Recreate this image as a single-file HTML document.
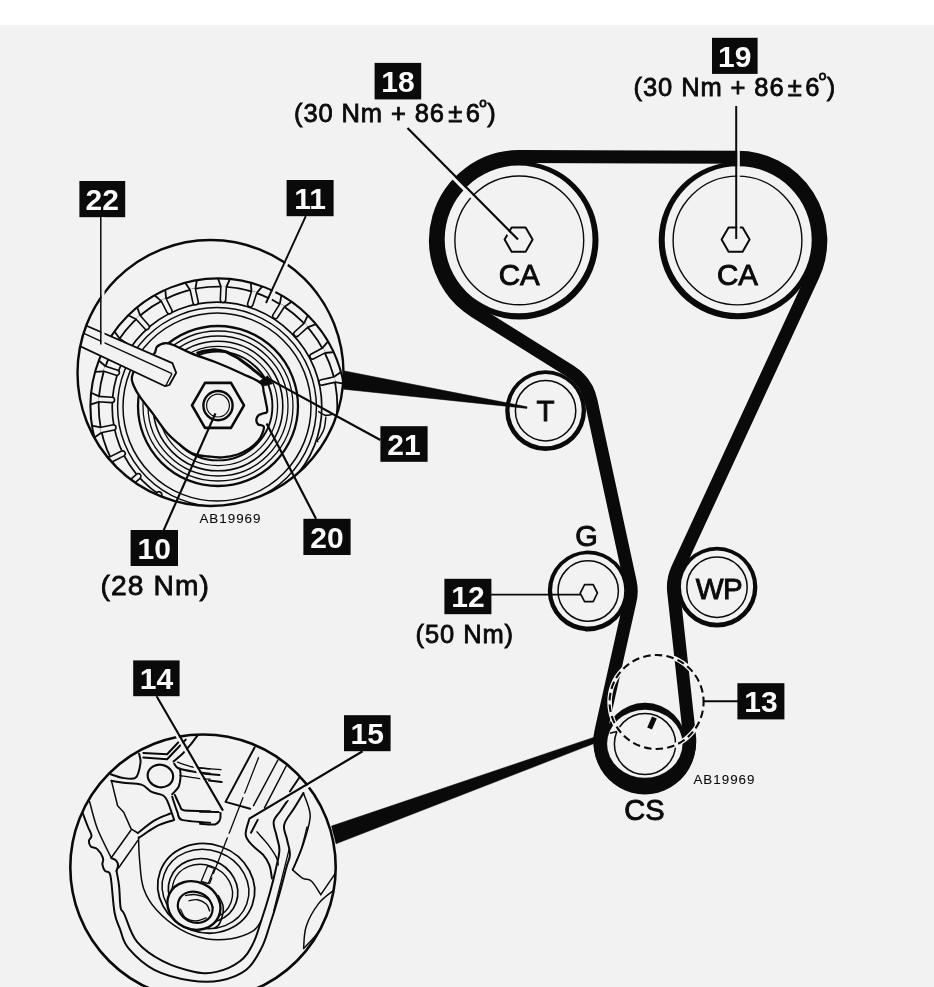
<!DOCTYPE html>
<html><head><meta charset="utf-8"><title>Timing belt diagram</title>
<style>
html,body{margin:0;padding:0;background:#fff;}
body{width:934px;height:987px;overflow:hidden;font-family:"Liberation Sans",sans-serif;}
svg{display:block;font-family:"Liberation Sans",sans-serif;}
</style></head><body>
<svg width="934" height="987" viewBox="0 0 934 987">
<rect x="0" y="0" width="934" height="987" fill="#ffffff"/>
<rect x="0" y="25" width="934" height="962" fill="#f2f2f2"/>
<g opacity="0.999">
<path d="M519.5 156.6 L737.7 157.2 A83.3 83.3 0 0 1 813.1 275.5 L677.4 568.9 A43.6 43.6 0 0 0 673.7 592 L689.5 736.3 A45 45 0 1 1 600.9 731.4 L630.2 600.4 A43 43 0 0 0 630.2 581.9 L591 400.9 A46.5 46.5 0 0 0 570.3 371.3 L474.8 311.4 A83.8 83.8 0 0 1 519.5 156.6Z" fill="none" stroke="#0a0a0a" stroke-width="13" stroke-linejoin="round"/>
<path d="M343.5 370.8 L527 406.8 L527 408.4 L343.5 389.2Z" fill="#0a0a0a" stroke="#0a0a0a" stroke-width="0.5" />
<path d="M331.5 826 L594 737.3 L594 743.5 L336 843.8Z" fill="#0a0a0a" stroke="#0a0a0a" stroke-width="0.5" />
<path d="M440.1 240.4 a79.2 79.2 0 1 0 158.4 0 a79.2 79.2 0 1 0 -158.4 0Z M444.7 239.4 a73.9 73.9 0 1 0 147.8 0 a73.9 73.9 0 1 0 -147.8 0Z" fill="#0a0a0a" fill-rule="evenodd"/>
<path d="M658.7 240.5 a78.8 78.8 0 1 0 157.6 0 a78.8 78.8 0 1 0 -157.6 0Z M664.7 239.7 a73.5 73.5 0 1 0 147 0 a73.5 73.5 0 1 0 -147 0Z" fill="#0a0a0a" fill-rule="evenodd"/>
<circle cx="519.3" cy="240.4" r="64.4" fill="none" stroke="#0a0a0a" stroke-width="1.4" />
<circle cx="737.5" cy="240.5" r="64.4" fill="none" stroke="#0a0a0a" stroke-width="1.4" />
<path d="M532.6 239.6 L525.6 251.7 L511.6 251.7 L504.6 239.6 L511.6 227.5 L525.6 227.5Z" fill="#f2f2f2" stroke="#0a0a0a" stroke-width="2" stroke-linejoin="round"/>
<path d="M749.6 239.6 L742.6 251.7 L728.6 251.7 L721.6 239.6 L728.6 227.5 L742.6 227.5Z" fill="#f2f2f2" stroke="#0a0a0a" stroke-width="2" stroke-linejoin="round"/>
<path d="M505.2 410.7 a40.4 40.4 0 1 0 80.8 0 a40.4 40.4 0 1 0 -80.8 0Z M509.5 410.1 a36.1 36.1 0 1 0 72.2 0 a36.1 36.1 0 1 0 -72.2 0Z" fill="#0a0a0a" fill-rule="evenodd"/>
<circle cx="545.6" cy="410.7" r="30.2" fill="none" stroke="#0a0a0a" stroke-width="1.5" />
<path d="M547.8 591 a40.4 40.4 0 1 0 80.8 0 a40.4 40.4 0 1 0 -80.8 0Z M552.1 590.4 a36.1 36.1 0 1 0 72.2 0 a36.1 36.1 0 1 0 -72.2 0Z" fill="#0a0a0a" fill-rule="evenodd"/>
<circle cx="588.2" cy="591" r="30.2" fill="none" stroke="#0a0a0a" stroke-width="1.5" />
<path d="M676.6 587.2 a40.4 40.4 0 1 0 80.8 0 a40.4 40.4 0 1 0 -80.8 0Z M680.9 586.6 a36.1 36.1 0 1 0 72.2 0 a36.1 36.1 0 1 0 -72.2 0Z" fill="#0a0a0a" fill-rule="evenodd"/>
<circle cx="717" cy="587.2" r="30.2" fill="none" stroke="#0a0a0a" stroke-width="1.5" />
<path d="M691.8 743.4 L691.4 749.5 L690.2 755.6 L688.2 761.4 L685.5 766.9 L682.1 772 L678 776.6 L673.4 780.7 L668.3 784.1 L662.8 786.8 L657 788.8 L650.9 790 L644.8 790.4 L638.7 790 L632.6 788.8 L626.8 786.8 L621.3 784.1 L616.2 780.7 L611.6 776.6 L607.5 772 L604.1 766.9 L601.4 761.4 L599.4 755.6 L598.2 749.5 L597.8 743.4" fill="none" stroke="#0a0a0a" stroke-width="8" />
<circle cx="645" cy="744" r="41.2" fill="#0a0a0a" stroke="#0a0a0a" stroke-width="0.1" />
<ellipse cx="644.8" cy="743.8" rx="37.7" ry="34" transform="rotate(0 644.8 743.8)" fill="#f2f2f2" stroke="#f2f2f2" stroke-width="0.1" />
<circle cx="645" cy="744" r="30.6" fill="none" stroke="#0a0a0a" stroke-width="1.5" />
<line x1="654.4" y1="717.4" x2="649.6" y2="728.6" stroke="#0a0a0a" stroke-width="5.2" />
<line x1="610" y1="733.2" x2="620.5" y2="730.4" stroke="#0a0a0a" stroke-width="1.6" />
<circle cx="656.6" cy="702" r="47" fill="none" stroke="#f2f2f2" stroke-width="4.6" />
<circle cx="656.6" cy="702" r="47" fill="none" stroke="#0a0a0a" stroke-width="2.1" stroke-dasharray="7.5 4.2" stroke-dashoffset="3"/>
<path d="M580.2 593.2 L584.6 584.6 L593.2 584.6 L597.4 593 L593.2 601.6 L584.6 601.6Z" fill="#f2f2f2" stroke="#0a0a0a" stroke-width="1.7" stroke-linejoin="round"/>
<line x1="491" y1="594.6" x2="581" y2="594.6" stroke="#0a0a0a" stroke-width="1.8" />
<line x1="405.6" y1="129.9" x2="516.1" y2="241.4" stroke="#f2f2f2" stroke-width="3.2" />
<line x1="407.5" y1="128" x2="518" y2="239.5" stroke="#0a0a0a" stroke-width="2.2" />
<line x1="738.5" y1="106" x2="738.5" y2="239" stroke="#f2f2f2" stroke-width="2.6" />
<line x1="736.2" y1="106" x2="736.2" y2="239" stroke="#0a0a0a" stroke-width="2" />
<line x1="703.5" y1="701.2" x2="738" y2="701.2" stroke="#0a0a0a" stroke-width="2" />
<rect x="374.6" y="62.9" width="46.6" height="36.5" fill="#0a0a0a"/>
<text x="397.9" y="91.9" font-size="30" font-weight="700" fill="#fafafa" text-anchor="middle">18</text>
<rect x="712" y="37.8" width="45.6" height="36.1" fill="#0a0a0a"/>
<text x="734.8" y="66.6" font-size="30" font-weight="700" fill="#fafafa" text-anchor="middle">19</text>
<rect x="79.4" y="181" width="45.8" height="36.2" fill="#0a0a0a"/>
<text x="102.3" y="209.8" font-size="30" font-weight="700" fill="#fafafa" text-anchor="middle">22</text>
<rect x="286.6" y="180" width="47" height="36.2" fill="#0a0a0a"/>
<text x="310.1" y="208.8" font-size="30" font-weight="700" fill="#fafafa" text-anchor="middle">11</text>
<rect x="380.4" y="426.2" width="47.2" height="35.6" fill="#0a0a0a"/>
<text x="404" y="454.7" font-size="30" font-weight="700" fill="#fafafa" text-anchor="middle">21</text>
<rect x="303.4" y="518.8" width="47.2" height="36.2" fill="#0a0a0a"/>
<text x="327" y="547.6" font-size="30" font-weight="700" fill="#fafafa" text-anchor="middle">20</text>
<rect x="130.6" y="530" width="47.4" height="36" fill="#0a0a0a"/>
<text x="154.3" y="558.7" font-size="30" font-weight="700" fill="#fafafa" text-anchor="middle">10</text>
<rect x="444.4" y="578.8" width="47" height="35.4" fill="#0a0a0a"/>
<text x="467.9" y="607.2" font-size="30" font-weight="700" fill="#fafafa" text-anchor="middle">12</text>
<rect x="737.4" y="683.2" width="47" height="36.2" fill="#0a0a0a"/>
<text x="760.9" y="712" font-size="30" font-weight="700" fill="#fafafa" text-anchor="middle">13</text>
<rect x="133.2" y="660.4" width="46.4" height="35.8" fill="#0a0a0a"/>
<text x="156.4" y="689" font-size="30" font-weight="700" fill="#fafafa" text-anchor="middle">14</text>
<rect x="344" y="715.2" width="46.6" height="36" fill="#0a0a0a"/>
<text x="367.3" y="743.9" font-size="30" font-weight="700" fill="#fafafa" text-anchor="middle">15</text>
<text x="294" y="122.2" font-size="25.5" letter-spacing="0.9" text-anchor="start" font-weight="400" fill="#0a0a0a" stroke="#0a0a0a" stroke-width="0.8" >(30 Nm + 86<tspan dx="3.2">±</tspan><tspan dx="2.6">6</tspan><tspan font-size="13.5" dy="-15.5" dx="-1.5">o</tspan><tspan dy="15.5" dx="-0.5">)</tspan></text>
<text x="633.6" y="95.8" font-size="25.5" letter-spacing="0.9" text-anchor="start" font-weight="400" fill="#0a0a0a" stroke="#0a0a0a" stroke-width="0.8" >(30 Nm + 86<tspan dx="3.2">±</tspan><tspan dx="2.6">6</tspan><tspan font-size="13.5" dy="-15.5" dx="-1.5">o</tspan><tspan dy="15.5" dx="-0.5">)</tspan></text>
<text x="100.6" y="595.4" font-size="28.2" letter-spacing="1.1" text-anchor="start" font-weight="400" fill="#0a0a0a" stroke="#0a0a0a" stroke-width="0.8" >(28 Nm)</text>
<text x="415.6" y="642.6" font-size="25.5" letter-spacing="0.9" text-anchor="start" font-weight="400" fill="#0a0a0a" stroke="#0a0a0a" stroke-width="0.8" >(50 Nm)</text>
<text x="519.3" y="285" font-size="29.5" letter-spacing="0" text-anchor="middle" font-weight="400" fill="#0a0a0a" stroke="#0a0a0a" stroke-width="0.9" >CA</text>
<text x="737.5" y="285" font-size="29.5" letter-spacing="0" text-anchor="middle" font-weight="400" fill="#0a0a0a" stroke="#0a0a0a" stroke-width="0.9" >CA</text>
<text x="545.6" y="421.4" font-size="29.5" letter-spacing="0" text-anchor="middle" font-weight="400" fill="#0a0a0a" stroke="#0a0a0a" stroke-width="0.9" >T</text>
<text x="586.6" y="546.4" font-size="29" letter-spacing="0" text-anchor="middle" font-weight="400" fill="#0a0a0a" stroke="#0a0a0a" stroke-width="0.9" >G</text>
<text x="719" y="599" font-size="29.5" letter-spacing="-0.5" text-anchor="middle" font-weight="400" fill="#0a0a0a" stroke="#0a0a0a" stroke-width="0.9" >WP</text>
<text x="644.5" y="820.4" font-size="29" letter-spacing="0" text-anchor="middle" font-weight="400" fill="#0a0a0a" stroke="#0a0a0a" stroke-width="0.9" >CS</text>
<text x="199.4" y="523.4" font-size="13.4" letter-spacing="1" text-anchor="start" font-weight="400" fill="#0a0a0a" stroke="#0a0a0a" stroke-width="0.1" >AB19969</text>
<text x="693.4" y="784.2" font-size="13.4" letter-spacing="1" text-anchor="start" font-weight="400" fill="#0a0a0a" stroke="#0a0a0a" stroke-width="0.1" >AB19969</text>
<clipPath id="clip1"><circle cx="210.5" cy="373" r="133"/></clipPath>
<g clip-path="url(#clip1)">
<circle cx="218" cy="406" r="127.6" fill="none" stroke="#0a0a0a" stroke-width="2.1" />
<circle cx="218" cy="406" r="119.3" fill="none" stroke="#0a0a0a" stroke-width="1.8" />
<circle cx="217" cy="407" r="104.8" fill="none" stroke="#0a0a0a" stroke-width="1.7" />
<circle cx="217" cy="407" r="99.4" fill="none" stroke="#0a0a0a" stroke-width="1.5" />
<circle cx="217" cy="407" r="94" fill="none" stroke="#0a0a0a" stroke-width="1.5" />
<path d="M215.3 533.6 L212.6 525.2" fill="none" stroke="#0a0a0a" stroke-width="1.8" />
<path d="M203.3 532.8 L207.2 524.8" fill="none" stroke="#0a0a0a" stroke-width="1.8" />
<path d="M212.6 525.9 L213.5 512.3 A2.7 2.7 0 0 0 208.1 511.9 L207.1 525.5" fill="#f2f2f2" stroke="#0a0a0a" stroke-width="1.6" />
<path d="M182.6 528.6 L182.1 519.8" fill="none" stroke="#0a0a0a" stroke-width="1.8" />
<path d="M171.2 524.7 L177 518" fill="none" stroke="#0a0a0a" stroke-width="1.8" />
<path d="M181.9 520.4 L186.3 507.6 A2.7 2.7 0 0 0 181.2 505.8 L176.8 518.7" fill="#f2f2f2" stroke="#0a0a0a" stroke-width="1.6" />
<path d="M152.3 515.4 L154.1 506.7" fill="none" stroke="#0a0a0a" stroke-width="1.8" />
<path d="M142.3 508.7 L149.6 503.7" fill="none" stroke="#0a0a0a" stroke-width="1.8" />
<path d="M153.7 507.3 L161.2 496 A2.7 2.7 0 0 0 156.7 493 L149.2 504.3" fill="#f2f2f2" stroke="#0a0a0a" stroke-width="1.6" />
<path d="M126.4 494.8 L130.3 486.9" fill="none" stroke="#0a0a0a" stroke-width="1.8" />
<path d="M118.4 485.8 L126.7 482.8" fill="none" stroke="#0a0a0a" stroke-width="1.8" />
<path d="M129.8 487.4 L140 478.4 A2.7 2.7 0 0 0 136.4 474.3 L126.2 483.3" fill="#f2f2f2" stroke="#0a0a0a" stroke-width="1.6" />
<path d="M106.6 468.3 L112.5 461.6" fill="none" stroke="#0a0a0a" stroke-width="1.8" />
<path d="M101.3 457.5 L110.1 456.8" fill="none" stroke="#0a0a0a" stroke-width="1.8" />
<path d="M111.9 462 L124 455.9 A2.7 2.7 0 0 0 121.6 451.1 L109.4 457.1" fill="#f2f2f2" stroke="#0a0a0a" stroke-width="1.6" />
<path d="M94.4 437.5 L101.7 432.6" fill="none" stroke="#0a0a0a" stroke-width="1.8" />
<path d="M91.9 425.7 L100.6 427.3" fill="none" stroke="#0a0a0a" stroke-width="1.8" />
<path d="M101 432.8 L114.3 430 A2.7 2.7 0 0 0 113.3 424.8 L99.9 427.5" fill="#f2f2f2" stroke="#0a0a0a" stroke-width="1.6" />
<path d="M90.4 404.7 L98.8 401.8" fill="none" stroke="#0a0a0a" stroke-width="1.8" />
<path d="M91.1 392.7 L99.1 396.4" fill="none" stroke="#0a0a0a" stroke-width="1.8" />
<path d="M98.1 401.8 L111.7 402.6 A2.7 2.7 0 0 0 112 397.2 L98.4 396.4" fill="#f2f2f2" stroke="#0a0a0a" stroke-width="1.6" />
<path d="M95 371.9 L103.9 371.3" fill="none" stroke="#0a0a0a" stroke-width="1.8" />
<path d="M98.8 360.5 L105.5 366.2" fill="none" stroke="#0a0a0a" stroke-width="1.8" />
<path d="M103.2 371.1 L116.1 375.3 A2.7 2.7 0 0 0 117.8 370.2 L104.9 365.9" fill="#f2f2f2" stroke="#0a0a0a" stroke-width="1.6" />
<path d="M107.9 341.4 L116.6 343.1" fill="none" stroke="#0a0a0a" stroke-width="1.8" />
<path d="M114.5 331.4 L119.6 338.6" fill="none" stroke="#0a0a0a" stroke-width="1.8" />
<path d="M116 342.8 L127.4 350.2 A2.7 2.7 0 0 0 130.4 345.7 L119 338.2" fill="#f2f2f2" stroke="#0a0a0a" stroke-width="1.6" />
<path d="M128.2 315.3 L136.2 319.2" fill="none" stroke="#0a0a0a" stroke-width="1.8" />
<path d="M137.2 307.3 L140.2 315.6" fill="none" stroke="#0a0a0a" stroke-width="1.8" />
<path d="M135.7 318.7 L144.8 328.8 A2.7 2.7 0 0 0 148.8 325.2 L139.7 315" fill="#f2f2f2" stroke="#0a0a0a" stroke-width="1.6" />
<path d="M154.6 295.3 L161.3 301.1" fill="none" stroke="#0a0a0a" stroke-width="1.8" />
<path d="M165.3 289.8 L166.1 298.6" fill="none" stroke="#0a0a0a" stroke-width="1.8" />
<path d="M160.9 300.4 L167.1 312.5 A2.7 2.7 0 0 0 171.9 310.1 L165.8 298" fill="#f2f2f2" stroke="#0a0a0a" stroke-width="1.6" />
<path d="M185.2 282.7 L190.1 290" fill="none" stroke="#0a0a0a" stroke-width="1.8" />
<path d="M196.9 280.1 L195.4 288.9" fill="none" stroke="#0a0a0a" stroke-width="1.8" />
<path d="M190 289.3 L192.9 302.6 A2.7 2.7 0 0 0 198.2 301.5 L195.3 288.2" fill="#f2f2f2" stroke="#0a0a0a" stroke-width="1.6" />
<path d="M218 278.4 L220.9 286.7" fill="none" stroke="#0a0a0a" stroke-width="1.8" />
<path d="M230 279 L226.3 287" fill="none" stroke="#0a0a0a" stroke-width="1.8" />
<path d="M220.9 286 L220.3 299.6 A2.7 2.7 0 0 0 225.7 299.9 L226.4 286.3" fill="#f2f2f2" stroke="#0a0a0a" stroke-width="1.6" />
<path d="M250.8 282.7 L251.5 291.5" fill="none" stroke="#0a0a0a" stroke-width="1.8" />
<path d="M262.3 286.3 L256.6 293.1" fill="none" stroke="#0a0a0a" stroke-width="1.8" />
<path d="M251.7 290.8 L247.6 303.8 A2.7 2.7 0 0 0 252.7 305.4 L256.9 292.5" fill="#f2f2f2" stroke="#0a0a0a" stroke-width="1.6" />
<path d="M281.4 295.3 L279.8 304" fill="none" stroke="#0a0a0a" stroke-width="1.8" />
<path d="M291.6 301.7 L284.4 306.9" fill="none" stroke="#0a0a0a" stroke-width="1.8" />
<path d="M280.2 303.4 L272.9 314.8 A2.7 2.7 0 0 0 277.4 317.7 L284.8 306.3" fill="#f2f2f2" stroke="#0a0a0a" stroke-width="1.6" />
<path d="M307.8 315.3 L304 323.3" fill="none" stroke="#0a0a0a" stroke-width="1.8" />
<path d="M315.9 324.2 L307.6 327.3" fill="none" stroke="#0a0a0a" stroke-width="1.8" />
<path d="M304.5 322.8 L294.5 332 A2.7 2.7 0 0 0 298.1 336 L308.2 326.8" fill="#f2f2f2" stroke="#0a0a0a" stroke-width="1.6" />
<path d="M328.1 341.4 L322.3 348.2" fill="none" stroke="#0a0a0a" stroke-width="1.8" />
<path d="M333.6 352.1 L324.9 353" fill="none" stroke="#0a0a0a" stroke-width="1.8" />
<path d="M323 347.8 L310.9 354.2 A2.7 2.7 0 0 0 313.4 358.9 L325.5 352.6" fill="#f2f2f2" stroke="#0a0a0a" stroke-width="1.6" />
<path d="M341 371.9 L333.7 376.9" fill="none" stroke="#0a0a0a" stroke-width="1.8" />
<path d="M343.6 383.6 L334.9 382.2" fill="none" stroke="#0a0a0a" stroke-width="1.8" />
<path d="M334.4 376.8 L321.1 379.8 A2.7 2.7 0 0 0 322.3 385.1 L335.6 382.1" fill="#f2f2f2" stroke="#0a0a0a" stroke-width="1.6" />
<path d="M318.2 411.4 C319.4 412.1 322.6 414.6 325.1 415.2 C327.5 415.7 330.7 414.6 331.9 414.5" fill="none" stroke="#0a0a0a" stroke-width="1.4" />
<path d="M325.9 416.5 C325.6 418.7 325.3 424.8 324.2 428.5 C323.1 432.2 321.1 434.9 319.9 437.1 C318.7 439.2 317.7 439.6 317.3 440.5 C317 441.4 318 441.9 318.2 442.2" fill="none" stroke="#0a0a0a" stroke-width="1.4" />
<circle cx="218" cy="406" r="80" fill="none" stroke="#0a0a0a" stroke-width="2.3" />
<circle cx="218" cy="406" r="75" fill="none" stroke="#0a0a0a" stroke-width="1.3" />
<circle cx="218" cy="406" r="70" fill="none" stroke="#0a0a0a" stroke-width="1.3" />
<circle cx="218" cy="406" r="64.8" fill="none" stroke="#0a0a0a" stroke-width="1.6" />
<circle cx="218" cy="406" r="59.6" fill="none" stroke="#0a0a0a" stroke-width="1.3" />
<circle cx="218" cy="406" r="54.4" fill="none" stroke="#0a0a0a" stroke-width="1.9" />
<path d="M196.5 353.4 C200.5 352.4 200.5 351.5 208.5 350.5 C216.5 349.5 212.5 349 220.5 350.5 C228.5 352 224.5 351 232.5 355.1 C240.5 359.2 236.5 357.1 244.5 362.8 C252.5 368.5 249.4 366.5 256.5 372.2 C263.6 378 262.8 377.4 265.9 380" fill="none" stroke="#0a0a0a" stroke-width="3" />
<path d="M153.7 354.3 C157.1 350.9 155 348.6 157.1 346.6 C159.3 344.5 162.5 343.3 165.7 343.1 C168.9 343 170.5 343.8 175.1 345.7 C179.7 347.5 183.8 350.3 191.4 353.4 C198.9 356.5 207.8 359.1 217.1 362.8 C226.3 366.5 234.9 370.3 242.8 374 C250.6 377.6 257 379.8 260.8 383 C264.5 386.3 262.8 388.5 263.7 391.9 C264.6 395.4 265.3 398.7 265.9 402.2 C266.5 405.8 267.7 409.6 267.1 411.6 C266.5 413.7 264.3 412.8 262.7 413.5 C261.1 414.2 259.3 414.4 258.2 415.6 C257.1 416.8 256.3 418.4 256.3 420 C256.3 421.6 256.9 423.4 258.2 424.5 C259.5 425.6 262.9 424.8 263.7 426.4 C264.5 427.9 263.5 430.5 262.5 433.1 C261.5 435.7 260.5 438 258.2 440.8 C255.9 443.5 253.3 446 249.6 448.5 C245.9 450.9 242.6 452.9 237.6 454.5 C232.7 456.1 227.5 457 222.2 457.4 C217 457.8 213.7 457.2 208.5 456.5 C203.4 455.9 198.8 456 193.6 453.9 C188.4 451.8 184.8 448.6 179.9 444.6 C175 440.6 171.1 437.6 166.2 431.9 C161.3 426.2 157.1 419.3 152.5 413.1 C147.9 406.9 143.9 402.6 140.5 397.7 C137.1 392.8 135.2 389.4 133.7 385.7 C132.2 382 131.1 380.8 131.9 377.1 C132.7 373.4 134.1 369.1 138 365 C141.9 360.9 150.3 357.6 153.7 354.3Z" fill="#f2f2f2" stroke="#0a0a0a" stroke-width="2.3" stroke-linejoin="round"/>
<path d="M258.2 382 L267.6 375.7 L272.8 383.7 L264.2 386Z" fill="#0a0a0a" stroke="#0a0a0a" stroke-width="0.5" />
<path d="M244 405.4 L231 427.9 L205 427.9 L192 405.4 L205 382.9 L231 382.9Z" fill="#f2f2f2" stroke="#0a0a0a" stroke-width="2.6" stroke-linejoin="round"/>
<circle cx="218" cy="405.6" r="14.6" fill="none" stroke="#0a0a0a" stroke-width="2.4" />
<circle cx="218" cy="405.6" r="11.4" fill="none" stroke="#0a0a0a" stroke-width="1.2" />
<path d="M76 321.2 L172.4 363.2 L176.2 372.8 L169.4 385 L165.2 386.2 L72 342.4Z" fill="#f2f2f2" stroke="#0a0a0a" stroke-width="1.8" stroke-linejoin="round"/>
<line x1="76" y1="329.8" x2="172" y2="373.6" stroke="#0a0a0a" stroke-width="1.4" />
<line x1="172" y1="373.6" x2="165.8" y2="385.6" stroke="#0a0a0a" stroke-width="1.2" />
</g>
<circle cx="210.5" cy="373" r="133" fill="none" stroke="#0a0a0a" stroke-width="2.4" />
<line x1="103" y1="217" x2="103" y2="344.4" stroke="#f2f2f2" stroke-width="3" />
<line x1="100.8" y1="217" x2="100.8" y2="344.4" stroke="#0a0a0a" stroke-width="1.5" />
<line x1="308" y1="217.2" x2="268.2" y2="304" stroke="#f2f2f2" stroke-width="3" />
<line x1="305.8" y1="216.2" x2="266" y2="303" stroke="#0a0a0a" stroke-width="1.9" />
<line x1="215.4" y1="413.4" x2="163.6" y2="530.4" stroke="#0a0a0a" stroke-width="2.2" />
<line x1="266.6" y1="423.6" x2="316" y2="518.8" stroke="#0a0a0a" stroke-width="2.2" />
<line x1="266.5" y1="377.6" x2="380.4" y2="440" stroke="#0a0a0a" stroke-width="2.2" />
<clipPath id="clip2"><circle cx="203" cy="867.2" r="132.7"/></clipPath>
<g clip-path="url(#clip2)" stroke-linecap="round" stroke-linejoin="round">
<ellipse cx="160.4" cy="776" rx="12.8" ry="11.2" transform="rotate(12 160.4 776)" fill="none" stroke="#0a0a0a" stroke-width="2.2" />
<path d="M110.6 774.3 C112.3 774.8 118.4 777.3 122.1 777.8 C125.8 778.3 132.9 780 135.6 777.8 C138.3 775.6 140 766.3 140.5 762.8 C141 759.2 139.3 755.1 139.1 753.8" fill="none" stroke="#0a0a0a" stroke-width="2" />
<path d="M111.2 780.7 C113.2 781.1 118.4 782 123.4 782.7 C128.4 783.3 136.7 783.1 141.4 784.6 C146.1 786.1 148 790.1 151.7 791.9 C155.3 793.7 160.6 793.9 163.2 795.5 C165.9 797.2 165.9 797.9 167.7 801.9 C169.6 806 173.1 816.9 174.2 819.9" fill="none" stroke="#0a0a0a" stroke-width="2" />
<path d="M143.3 752.9 L167.1 754.2 L178.4 742.2" fill="none" stroke="#0a0a0a" stroke-width="2" />
<path d="M143.3 757.6 L167.1 759.2 L174.2 751.8 L185.7 739.6" fill="none" stroke="#0a0a0a" stroke-width="2" />
<path d="M173.5 761.5 C174.8 760.3 179.9 756.4 182.5 753.8 C185.1 751.1 189.3 746.1 191.5 743.5 C193.7 740.9 196.4 736.9 197.3 735.8" fill="none" stroke="#0a0a0a" stroke-width="2" />
<path d="M177.4 762.1 C179.6 762.8 188 766 192.8 767 C197.6 768 207.5 768.5 210 768.8" fill="none" stroke="#0a0a0a" stroke-width="1.3" />
<path d="M174.2 763.7 C174.8 764.4 175.7 767.4 178.7 768.5 C181.6 769.7 189.5 771 194.1 771.8 C198.7 772.5 207.7 773.4 210 773.7" fill="none" stroke="#0a0a0a" stroke-width="2" />
<path d="M179.9 768.5 C180 769.8 180.8 773.3 180.6 776.3 C180.4 779.3 180 783.5 178.7 786.5 C177.3 789.5 173.3 793 172.2 794.2" fill="none" stroke="#0a0a0a" stroke-width="2" />
<path d="M179.9 775.6 C182.6 776 193.5 777.8 197.9 778.3 C202.3 778.8 208.2 779 210 779.1" fill="none" stroke="#0a0a0a" stroke-width="1.3" />
<path d="M174.8 794.9 C175.5 796.3 178.7 803.7 179.9 805.8 C181.1 807.9 179.8 809.6 183.8 810.3 C187.8 811 206.5 811.1 210 811.2" fill="none" stroke="#0a0a0a" stroke-width="2" />
<path d="M172.2 796.8 C172.9 798.9 176.1 809.1 177.4 812.2 C178.7 815.3 177.5 818.5 181.9 819.9 C186.2 821.3 206.2 822.4 210 822.8" fill="none" stroke="#0a0a0a" stroke-width="2" />
<path d="M111.6 781.4 L117.6 805.8 L123.7 812.2 L131.1 828.9 L137.8 833" fill="none" stroke="#0a0a0a" stroke-width="1.5" />
<path d="M137.8 833 C140.8 830.8 148.4 824.1 154.2 820.6 C160.1 817.1 167.4 814.8 170.3 813.5" fill="none" stroke="#0a0a0a" stroke-width="2" />
<path d="M139.1 837.7 C142.3 835.6 150.7 829.2 156.8 826.1 C163 823 170.3 821.3 173.3 820.2" fill="none" stroke="#0a0a0a" stroke-width="2" />
<path d="M89.6 801.6 C90.7 805.5 94.1 820.2 97.3 828.5 C100.5 836.8 109.3 853.8 111.4 858.1" fill="none" stroke="#0a0a0a" stroke-width="1.5" />
<path d="M111.4 858.1 C112.4 858.6 115.1 859.3 116.4 860.8 C117.7 862.3 118 863.6 118 865.6 C118 867.6 116.8 869.8 116.5 870.9" fill="none" stroke="#0a0a0a" stroke-width="2" />
<path d="M111.6 857.3 L130.9 830.2" fill="none" stroke="#0a0a0a" stroke-width="1.5" />
<path d="M118.5 868 L137.7 840.6" fill="none" stroke="#0a0a0a" stroke-width="1.5" />
<path d="M116.5 870.9 C117 873.7 118.4 879.8 119.1 886.4 C119.8 893 119.7 902.5 120.6 907.5 C121.5 912.5 121.3 907.9 124.3 914.1 C127.3 920.3 130.2 933.4 137.1 941.9 C144 950.4 152.4 955.8 162.8 961.2 C173.2 966.6 185.3 970 194.9 971.9 C204.5 973.8 208.3 973.8 216.4 971.9 C224.5 970 233.3 966.2 239.9 961.2 C246.5 956.2 248.9 951.4 252.8 944.1 C256.7 936.8 258.2 929.8 261.3 920.5 C264.4 911.2 267.2 902.3 269.9 892.7 C272.6 883.1 274.6 874.7 276.3 867 C278 859.3 279.3 855.6 279.4 850 C279.5 844.4 277.6 841.1 276.6 836 C275.6 830.9 273 826.2 273.7 821.7 C274.4 817.2 278 814.8 280.5 811 C283 807.2 286.4 802.3 287.7 800.4" fill="none" stroke="#0a0a0a" stroke-width="2" />
<path d="M82.5 812.5 C83.4 814.9 86 821.8 87.6 826 C89.2 830.2 91.3 832.9 91.5 835.6 C91.7 838.3 89 838.8 88.9 840.8 C88.8 842.8 89.3 845 90.8 846.5 C92.3 848 95.1 847 97.3 849.1 C99.5 851.2 102.1 855.3 103 858.1 C103.9 860.9 102 862.2 102.4 864.5 C102.8 866.8 103.7 869.4 105 870.9 C106.3 872.4 108.3 870.8 109.5 872.9 C110.7 875 110.5 875.3 111.4 882.5 C112.3 889.7 113.1 904.3 114.6 912.7 C116.1 921.1 117.5 922.7 120 929.1 C122.5 935.5 122.4 941.1 128.6 948.4 C134.8 955.7 143.1 964 154.3 969.8 C165.5 975.6 178.8 978.6 190.7 980.5 C202.6 982.4 210.6 982.4 220.6 980.5 C230.6 978.6 239 975.6 246.3 969.8 C253.6 964 257.1 956.5 261.3 948.4 C265.5 940.3 266.8 934.1 269.9 924.8 C273 915.5 275.5 907.4 278.5 897 C281.5 886.6 284.4 874.7 286.5 867 C288.6 859.3 289.8 859.4 289.9 854.4 C290 849.4 288 844.8 287 839.5 C286 834.2 283 830.2 284.2 824.7 C285.4 819.2 290.3 814.5 293.8 808.8 C297.3 803.1 301.7 795.8 303.4 793" fill="none" stroke="#0a0a0a" stroke-width="2" />
<path d="M138.5 837.3 C138.7 841.6 138.8 852.1 139.7 861.3 C140.6 870.5 140.6 879.7 143.6 888.4 C146.6 897.1 149.8 902.5 156.4 909.8 C163 917.1 171.1 923.9 180 929.1 C188.9 934.3 196.5 937 205.7 938.7 C214.9 940.4 222.8 940.1 231.3 938.7 C239.8 937.4 247.4 934.5 252.8 931.2 C258.2 927.9 259.8 922.4 261.3 920.5" fill="none" stroke="#0a0a0a" stroke-width="1.5" />
<ellipse cx="206.2" cy="888.3" rx="49" ry="44.2" transform="rotate(20 206.2 888.3)" fill="none" stroke="#0a0a0a" stroke-width="1.8" />
<ellipse cx="205.5" cy="889" rx="43.9" ry="39.1" transform="rotate(20 205.5 889)" fill="none" stroke="#0a0a0a" stroke-width="1.5" />
<ellipse cx="203.1" cy="890.7" rx="35.1" ry="31.7" transform="rotate(20 203.1 890.7)" fill="none" stroke="#0a0a0a" stroke-width="1.7" />
<ellipse cx="202.4" cy="891.8" rx="30.5" ry="27.1" transform="rotate(20 202.4 891.8)" fill="none" stroke="#0a0a0a" stroke-width="1.4" />
<path d="M207.6 866.1 L214.4 868.5 L208.3 883.5 L201.1 881.5Z" fill="#f2f2f2" stroke="#0a0a0a" stroke-width="1.3" />
<ellipse cx="193.9" cy="905.5" rx="27.1" ry="23.6" transform="rotate(25 193.9 905.5)" fill="#f2f2f2" stroke="#0a0a0a" stroke-width="2.4" />
<ellipse cx="195.2" cy="907.2" rx="17.8" ry="15.1" transform="rotate(25 195.2 907.2)" fill="#f2f2f2" stroke="#0a0a0a" stroke-width="2.2" />
<path d="M185.7 895.5 C187.5 895.4 191.9 894 195.9 894.7 C199.9 895.3 204.8 896.6 207.9 898.9 C211 901.3 212.1 906 213.1 907.5" fill="none" stroke="#0a0a0a" stroke-width="1.4" />
<path d="M189.1 900.7 C190.6 900.5 194.6 899.2 197.6 899.8 C200.7 900.4 204.1 902.1 206.2 904.1 C208.4 906.1 209 909.7 209.6 910.9" fill="none" stroke="#0a0a0a" stroke-width="1.4" />
<path d="M180.5 909.2 C181.4 910.8 182.9 915.7 185.7 917.8 C188.4 919.9 192.2 920.9 195.9 920.9 C199.6 920.9 204.4 918.3 206.2 917.8" fill="none" stroke="#0a0a0a" stroke-width="1.3" />
<path d="M218.2 895.5 C219.1 897.7 223 902.6 223.3 907.5 C223.6 912.4 221.5 919.2 219.9 922.9 C218.4 926.6 215.7 927.1 214.8 928.1" fill="none" stroke="#0a0a0a" stroke-width="1.6" />
<line x1="258.5" y1="757.7" x2="209.6" y2="883.5" stroke="#0a0a0a" stroke-width="1.3" stroke-dasharray="38 5"/>
<path d="M254.7 747.2 L225.5 801.9 L250.2 808.7" fill="none" stroke="#0a0a0a" stroke-width="2" />
<path d="M277.9 760 L253.5 805.7" fill="none" stroke="#0a0a0a" stroke-width="1.5" />
<path d="M286.2 766 L264.5 807.9" fill="none" stroke="#0a0a0a" stroke-width="1.5" />
<path d="M299.2 777.7 L289.9 791.5" fill="none" stroke="#0a0a0a" stroke-width="2" />
<path d="M200 811.7 C202.5 811.8 216 811.7 218.7 812.1 C221.5 812.5 220.4 813.6 220.5 814.7 C220.6 815.8 220.2 819.4 219.5 820.7 C218.7 822 217.6 824 215 824.4 C212.4 824.9 202 823.9 200 823.8" fill="none" stroke="#0a0a0a" stroke-width="2" />
<path d="M200 768.2 L221 769.7" fill="none" stroke="#0a0a0a" stroke-width="1.3" />
<path d="M204.5 773.8 L219.5 775" fill="none" stroke="#0a0a0a" stroke-width="2" />
<path d="M209 780.5 L221.7 781.9" fill="none" stroke="#0a0a0a" stroke-width="2" />
<path d="M249.5 818.4 C248.8 821.4 245.2 830.1 245.7 834.9 C246.3 839.8 249.4 841.9 252.5 845.4 C255.6 849 259.9 851.2 263 854.7 C266 858.2 267.6 860.6 269.3 864.9 C270.9 869.2 271.5 876 271.9 878.4" fill="none" stroke="#0a0a0a" stroke-width="2" />
<path d="M257.7 819.9 L251 832.7" fill="none" stroke="#0a0a0a" stroke-width="2" />
<path d="M257 831.9 C258.8 834.1 263.9 839.3 267.5 843.9 C271 848.5 274.5 853.6 276.4 857.4 C278.4 861.2 277.9 863.6 278.2 864.9" fill="none" stroke="#0a0a0a" stroke-width="1.5" />
<path d="M303.4 793 C304.4 796.3 310.2 808 310.2 815.4 C310.2 822.9 306 835.9 303.4 843.9 C300.9 851.9 294.5 866.2 292.9 870" fill="none" stroke="#0a0a0a" stroke-width="1.5" />
<path d="M289.1 849.3 L273.7 910.9" fill="none" stroke="#0a0a0a" stroke-width="1.3" />
<path d="M307.1 827 C306 831 303.7 841.6 301.1 849.3 C298.4 857 294 866.1 292.5 869.8" fill="none" stroke="#0a0a0a" stroke-width="1.5" />
<path d="M292.5 869.8 C294.4 871.4 299.4 876.4 302.8 878.4 C306.2 880.4 308.1 878 311.3 881 C314.6 883.9 319.1 892.2 320.8 894.7" fill="none" stroke="#0a0a0a" stroke-width="1.5" />
<path d="M320.8 894.7 L335.3 873.3" fill="none" stroke="#0a0a0a" stroke-width="1.5" />
<path d="M333.6 890.4 C330.8 892.9 323.1 897.6 318.2 904.1 C313.3 910.6 308.8 918.3 306.2 926.4 C303.6 934.4 304.1 944.6 303.6 948.6" fill="none" stroke="#0a0a0a" stroke-width="1.5" />
<path d="M336.2 878.4 C335.3 882.4 332.6 898.3 330.2 905.8 C327.8 913.3 323.7 923.6 319.9 929.8 C316.1 935.9 306.8 945.1 304.5 947.8" fill="none" stroke="#0a0a0a" stroke-width="1.5" />
</g>
<circle cx="203" cy="867.2" r="132.7" fill="none" stroke="#0a0a0a" stroke-width="2.6" />
<line x1="154.6" y1="697.4" x2="221" y2="811.8" stroke="#f2f2f2" stroke-width="2.6" />
<line x1="156.6" y1="696.2" x2="223" y2="810.6" stroke="#0a0a0a" stroke-width="2.1" />
<line x1="363.8" y1="753.3" x2="251" y2="820.5" stroke="#f2f2f2" stroke-width="2.6" />
<line x1="362.6" y1="751.2" x2="249.8" y2="818.4" stroke="#0a0a0a" stroke-width="2.2" />
</g>
</svg>
</body></html>
